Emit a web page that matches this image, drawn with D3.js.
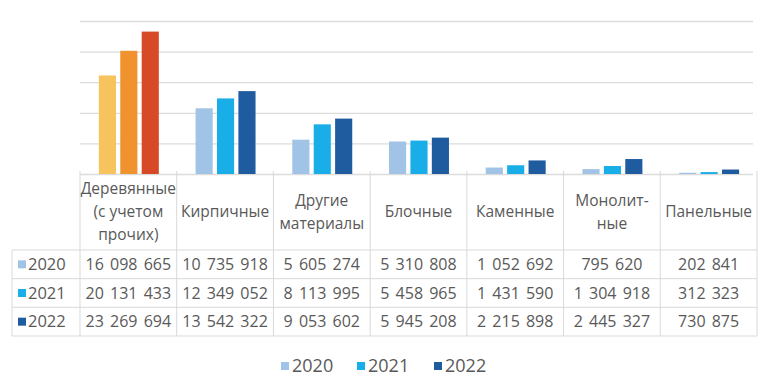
<!DOCTYPE html>
<html>
<head>
<meta charset="utf-8">
<script src="https://cdn.jsdelivr.net/npm/d3@7"></script>
<style>
  body { margin: 0; background: #fff; }
  text { font-family: "Open Sans", sans-serif; fill: #595959; }
</style>
</head>
<body>
<script>
// data
const categories = [
    ["Деревянные", "(с учетом", "прочих)"],
    ["Кирпичные"],
    ["Другие", "материалы"],
    ["Блочные"],
    ["Каменные"],
    ["Монолит-", "ные"],
    ["Панельные"]
];
const years = ["2020", "2021", "2022"];
const values2020 = [16098665, 10735918, 5605274, 5310808, 1052692, 795620, 202841];
const values2021 = [20131433, 12349052, 8113995, 5458965, 1431590, 1304918, 312323];
const values2022 = [23269694, 13542322, 9053602, 5945208, 2215898, 2445327, 730875];
const gridTicks = [0, 5e6, 10e6, 15e6, 20e6, 25e6];

const series = [values2020, values2021, values2022];
const seriesColors = ["#a1c3e5", "#1aaee8", "#1f5b9f"];
const woodColors = ["#f7c35c", "#f0922e", "#d64a27"];

const width = 760, height = 377;
const plotLeft = 80, plotRight = 757, plotTop = 21, plotBottom = 174;

const svg = d3.select("body").append("svg")
    .attr("width", width)
    .attr("height", height);

const x = d3.scaleBand()
    .domain(d3.range(categories.length))
    .range([plotLeft, plotRight]);
const bw = x.bandwidth();
const xInner = d3.scaleBand()
    .domain(years)
    .range([bw * 0.195, bw * 0.815])
    .paddingInner(0.2);
const y = d3.scaleLinear()
    .domain([0, 25e6])
    .range([plotBottom, plotTop]);

// horizontal grid lines
svg.append("g")
    .attr("transform", "translate(" + plotLeft + ",0)")
    .call(d3.axisLeft(y).tickValues(gridTicks).tickSize(-(plotRight - plotLeft - 4)).tickFormat(""))
    .call(g => g.select(".domain").remove())
    .selectAll("line")
    .attr("stroke", "#dcdcdc")
    .attr("stroke-width", 1.3);

// bars
const groups = svg.append("g").selectAll("g")
    .data(categories)
    .join("g")
    .attr("transform", (d, i) => "translate(" + x(i) + ",0)");

groups.selectAll("rect")
    .data((d, i) => years.map((yr, s) => ({yr: yr, s: s, i: i, v: series[s][i]})))
    .join("rect")
    .attr("x", d => xInner(d.yr))
    .attr("width", xInner.bandwidth())
    .attr("y", d => y(d.v))
    .attr("height", d => y(0) - y(d.v))
    .attr("fill", d => d.i === 0 ? woodColors[d.s] : seriesColors[d.s]);

// data table
const rowTop = 250, rowBottom = 336, tableLeft = 12;
const rowY = d3.scaleBand().domain(years).range([rowTop, rowBottom]);
const table = svg.append("g")
    .attr("stroke", "#d9d9d9")
    .attr("stroke-width", 1);

// horizontal lines of the rows
[rowTop].concat(years.map(yr => rowY(yr) + rowY.bandwidth())).forEach(yy => {
    table.append("line")
        .attr("x1", tableLeft).attr("x2", plotRight)
        .attr("y1", yy).attr("y2", yy);
});
// vertical lines
table.append("line")
    .attr("x1", tableLeft).attr("x2", tableLeft)
    .attr("y1", rowTop).attr("y2", rowBottom);
d3.range(categories.length + 1).forEach(i => {
    const xx = i < categories.length ? x(i) : plotRight;
    table.append("line")
        .attr("x1", xx).attr("x2", xx)
        .attr("y1", plotBottom - 3).attr("y2", rowBottom);
});

// category headers
const lineH = 23;
svg.append("g").selectAll("text")
    .data(categories)
    .join("text")
    .attr("text-anchor", "middle")
    .style("font-size", "15.5px")
    .each(function (d, i) {
        const cy = (plotBottom + rowTop) / 2;
        const y0 = cy - (d.length - 1) * lineH / 2;
        d3.select(this).selectAll("tspan")
            .data(d)
            .join("tspan")
            .attr("x", x(i) + bw / 2)
            .attr("y", (t, k) => y0 + k * lineH)
            .attr("dy", "0.35em")
            .text(t => t);
    });

// values
const fmt = d3.formatLocale({decimal: ",", thousands: " ", grouping: [3], currency: ["", ""]}).format(",d");
years.forEach((yr, s) => {
    const row = svg.append("g");
    row.append("rect")
        .attr("x", 18)
        .attr("y", rowY(yr) + rowY.bandwidth() / 2 - 4)
        .attr("width", 8)
        .attr("height", 8)
        .attr("fill", seriesColors[s]);
    row.append("text")
        .attr("x", 28)
        .attr("y", rowY(yr) + rowY.bandwidth() / 2)
        .attr("dy", "0.35em")
        .style("font-size", "16.5px")
        .text(yr);
    row.selectAll("text.val")
        .data(series[s])
        .join("text")
        .attr("class", "val")
        .attr("x", (v, i) => x(i) + bw / 2)
        .attr("y", rowY(yr) + rowY.bandwidth() / 2)
        .attr("dy", "0.35em")
        .attr("text-anchor", "middle")
        .style("font-size", "16px")
        .style("word-spacing", "2px")
        .text(v => fmt(v));
});

// legend
const legendX = [281, 357, 434];
const legend = svg.append("g").selectAll("g")
    .data(years)
    .join("g")
    .attr("transform", (d, i) => "translate(" + legendX[i] + ",366)");
legend.append("rect")
    .attr("x", 0).attr("y", -4)
    .attr("width", 8).attr("height", 8)
    .attr("fill", (d, i) => seriesColors[i]);
legend.append("text")
    .attr("x", 11)
    .attr("dy", "0.35em")
    .style("font-size", "18px")
    .text(d => d);
</script>
</body>
</html>
